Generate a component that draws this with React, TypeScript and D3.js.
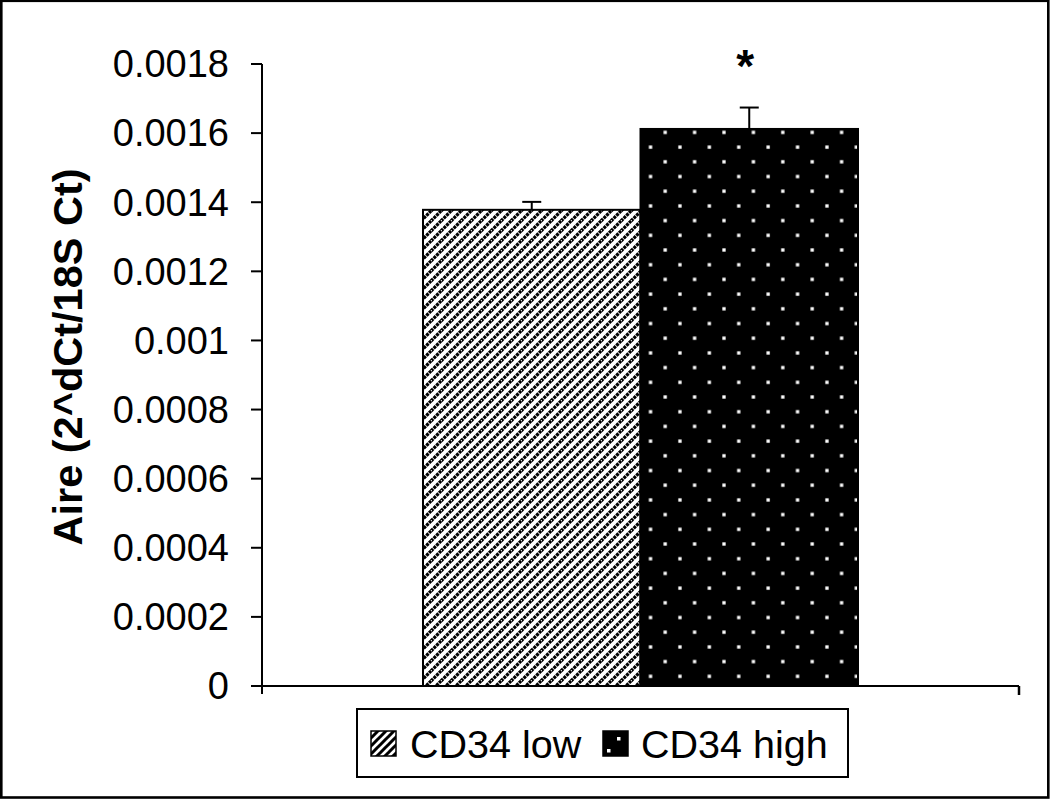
import React from "react";
import * as d3 from "d3";

const series = ["CD34 low", "CD34 high"];
const values = [0.001378, 0.001612];
const errors = [0.000023, 0.000062];
const tickValues = [0, 0.0002, 0.0004, 0.0006, 0.0008, 0.001, 0.0012, 0.0014, 0.0016, 0.0018];
const tickLabels = ["0", "0.0002", "0.0004", "0.0006", "0.0008", "0.001", "0.0012", "0.0014", "0.0016", "0.0018"];
const yTitle = "Aire (2^dCt/18S Ct)";
const significance = ["", "*"];

const W = 1050;
const H = 799;
const FONT = "'Liberation Sans', Arial, Helvetica, sans-serif";

export default function App() {
  const y = d3.scaleLinear().domain([0, 0.0018]).range([686, 64]);
  const xOuter = d3.scaleBand().domain(["g"]).range([262, 1019]);
  const groupW = 435;
  const gx0 = (xOuter("g") as number) + (xOuter.bandwidth() - groupW) / 2;
  const x = d3.scaleBand().domain(series).range([gx0, gx0 + groupW]).padding(0);
  const fills = ["url(#hatch)", "url(#dots)"];

  return (
    <svg
      width={W}
      height={H}
      style={{ position: "absolute", left: 0, top: 0, background: "#fff" }}
      fontFamily={FONT}
    >
      <defs>
        <pattern id="hatch" patternUnits="userSpaceOnUse" width="10" height="10" x="422" y="0">
          <rect width="10" height="10" fill="#fff" />
          <path d="M-1,11 L11,-1 M-1,1 L1,-1 M9,11 L11,9" stroke="#000" strokeWidth="3.2" strokeDasharray="3,0.8" />
        </pattern>
        <pattern id="dots" patternUnits="userSpaceOnUse" width="29.4" height="29.4" x="709.3" y="411.7">
          <rect width="29.4" height="29.4" fill="#000" />
          <rect x="-1.6" y="-1.6" width="3.3" height="3.3" fill="#fff" />
          <rect x="27.8" y="-1.6" width="3.3" height="3.3" fill="#fff" />
          <rect x="-1.6" y="27.8" width="3.3" height="3.3" fill="#fff" />
          <rect x="27.8" y="27.8" width="3.3" height="3.3" fill="#fff" />
          <rect x="13.05" y="13.05" width="3.3" height="3.3" fill="#fff" />
        </pattern>
        <pattern id="hatchSmall" patternUnits="userSpaceOnUse" width="8" height="8" x="371" y="730">
          <rect width="8" height="8" fill="#fff" />
          <path d="M-1,9 L9,-1 M-1,1 L1,-1 M7,9 L9,7" stroke="#000" strokeWidth="3" />
        </pattern>
      </defs>

      {/* outer frame */}
      <rect x={1.3} y={0.8} width={W - 3} height={H - 2.3} fill="none" stroke="#000" strokeWidth={2.6} />

      {/* bars */}
      {series.map((s, i) => (
        <rect
          key={s}
          x={x(s)}
          y={y(values[i])}
          width={x.bandwidth()}
          height={y(0) - y(values[i])}
          fill={fills[i]}
          stroke="#000"
          strokeWidth={2}
        />
      ))}

      {/* error bars */}
      {series.map((s, i) => {
        const cx = (x(s) as number) + x.bandwidth() / 2;
        const top = y(values[i] + errors[i]);
        return (
          <g key={s + "e"} stroke="#000" strokeWidth={2}>
            <line x1={cx} x2={cx} y1={y(values[i])} y2={top} />
            <line x1={cx - 9.5} x2={cx + 9.5} y1={top} y2={top} />
          </g>
        );
      })}

      {/* significance */}
      {series.map((s, i) =>
        significance[i] ? (
          <text
            key={s + "sig"}
            x={(x(s) as number) + x.bandwidth() / 2 - 4}
            y={82}
            textAnchor="middle"
            fontSize={46}
            fontWeight="bold"
          >
            {significance[i]}
          </text>
        ) : null
      )}

      {/* y axis */}
      <line x1={262} x2={262} y1={y(0.0018)} y2={y(0) + 8} stroke="#000" strokeWidth={2} />
      {tickValues.map((t, i) => (
        <g key={t}>
          <line x1={251} x2={262} y1={y(t)} y2={y(t)} stroke="#000" strokeWidth={2} />
          <text x={229} y={y(t)} dy="0.35em" textAnchor="end" fontSize={38}>
            {tickLabels[i]}
          </text>
        </g>
      ))}

      {/* x axis */}
      <line x1={262} x2={1019} y1={y(0)} y2={y(0)} stroke="#000" strokeWidth={2} />
      <line x1={1019} x2={1019} y1={y(0)} y2={y(0) + 9} stroke="#000" strokeWidth={2.5} />

      {/* y title */}
      <text
        transform={`translate(82, 357) rotate(-90)`}
        textAnchor="middle"
        fontSize={41.5}
        fontWeight="bold"
      >
        {yTitle}
      </text>

      {/* legend */}
      <rect x={357} y={709} width={491} height={68} fill="#fff" stroke="#000" strokeWidth={2} />
      <rect x={371} y={731} width={25} height={25} fill="url(#hatchSmall)" stroke="#000" strokeWidth={1.5} />
      <text x={410} y={758} fontSize={39.5}>{series[0]}</text>
      <rect x={603} y={731} width={25} height={25} fill="#000" stroke="#000" strokeWidth={1.5} />
      <rect x={607} y={749} width={3.5} height={3.5} fill="#fff" />
      <rect x={617} y={737} width={3.5} height={3.5} fill="#fff" />
      <text x={641} y={758} fontSize={39.5}>{series[1]}</text>
    </svg>
  );
}
